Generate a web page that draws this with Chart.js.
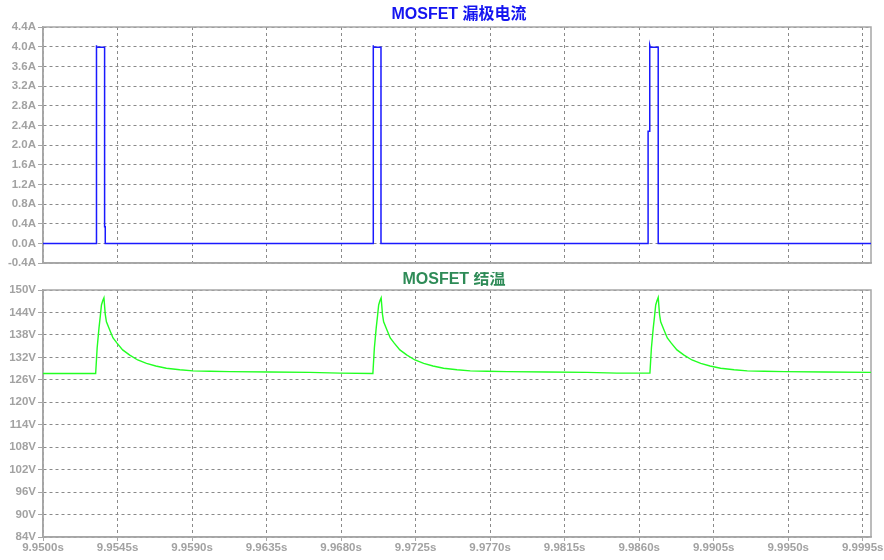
<!DOCTYPE html>
<html>
<head>
<meta charset="utf-8">
<script src="https://cdn.jsdelivr.net/npm/chart.js@4"></script>
<style>
  html, body { margin: 0; padding: 0; background: #ffffff; }
  #wrap { position: relative; width: 884px; height: 560px; overflow: hidden; }
  canvas { position: absolute; left: 0; }
  #cTop { top: 0; }
  #cBot { top: 272px; }
</style>
</head>
<body>
<div id="wrap">
  <canvas id="cTop" width="884" height="272"></canvas>
  <canvas id="cBot" width="884" height="288"></canvas>
</div>
<script>
// ---------- data ----------
const titleCurrent = 'MOSFET 漏极电流';
const titleTemp = 'MOSFET 结温';

const timeMin = 9.95;
const timeMax = 10.0;
const timeTicks = [9.9500, 9.9545, 9.9590, 9.9635, 9.9680, 9.9725, 9.9770, 9.9815, 9.9860, 9.9905, 9.9950, 9.9995];

const currentTicks = [-0.4, 0.0, 0.4, 0.8, 1.2, 1.6, 2.0, 2.4, 2.8, 3.2, 3.6, 4.0, 4.4];
const tempTicks = [84, 90, 96, 102, 108, 114, 120, 126, 132, 138, 144, 150];

// drain current (A) vs time (s)
const currentTime = [
  9.95000, 9.95322, 9.95322, 9.95324, 9.95372, 9.95372, 9.95376, 9.95376,
  9.96993, 9.96993, 9.96996, 9.97041, 9.97041,
  9.98654, 9.98654, 9.98664, 9.98664, 9.98667, 9.98715, 9.98715,
  10.00000
];
const currentAmps = [
  0.00, 0.00, 4.03, 3.99, 3.99, 0.34, 0.34, 0.00,
  0.00, 4.03, 3.99, 3.99, 0.00,
  0.00, 2.28, 2.28, 4.03, 3.99, 3.99, 0.00,
  0.00
];

// junction temperature (plotted in V) vs time (s)
const tempTime = [
  9.95000,
  9.95318, 9.95327, 9.95338, 9.95346, 9.95353, 9.95361, 9.95368, 9.95376,
  9.95383, 9.95403, 9.95423, 9.95447, 9.95481, 9.95524, 9.95572, 9.95625,
  9.95681, 9.95745, 9.95826, 9.95906, 9.96007, 9.96128, 9.96369, 9.96611,
  9.96792,
  9.96992, 9.97001, 9.97012, 9.97020, 9.97027, 9.97035, 9.97042, 9.97050,
  9.97057, 9.97077, 9.97097, 9.97121, 9.97155, 9.97198, 9.97246, 9.97299,
  9.97355, 9.97419, 9.97500, 9.97580, 9.97681, 9.97802, 9.98043, 9.98285,
  9.98466,
  9.98665, 9.98674, 9.98685, 9.98693, 9.98700, 9.98708, 9.98715, 9.98723,
  9.98730, 9.98750, 9.98770, 9.98794, 9.98828, 9.98871, 9.98919, 9.98972,
  9.99028, 9.99092, 9.99173, 9.99253, 9.99354, 9.99475, 9.99716, 10.00000
];
const tempValues = [
  127.7,
  127.7, 134.5, 139.8, 143.0, 146.0, 147.2, 147.9, 143.5,
  141.5, 139.3, 137.2, 135.8, 134.0, 132.6, 131.3, 130.4,
  129.7, 129.1, 128.7, 128.4, 128.3, 128.2, 128.1, 128.0,
  127.8,
  127.7, 134.5, 139.8, 143.0, 146.0, 147.2, 147.9, 143.5,
  141.5, 139.3, 137.2, 135.8, 134.0, 132.6, 131.3, 130.4,
  129.7, 129.1, 128.7, 128.4, 128.3, 128.2, 128.1, 128.0,
  127.8,
  127.8, 134.5, 139.8, 143.0, 146.0, 147.2, 148.0, 143.5,
  141.5, 139.3, 137.2, 135.8, 134.0, 132.6, 131.3, 130.4,
  129.7, 129.1, 128.7, 128.4, 128.3, 128.2, 128.1, 128.0
];

// ---------- styling ----------
const tickFont = { family: "'Liberation Sans', Arial, sans-serif", size: 11.5, weight: 'bold' };
const tickColor = '#a2a2a2';
const gridColor = '#8a8a8a';
const frameColor = '#a6a6a6';

const framePlugin = {
  id: 'frame',
  beforeDatasetsDraw(chart) {
    const a = chart.chartArea, ctx = chart.ctx;
    ctx.save();
    ctx.strokeStyle = frameColor;
    ctx.lineWidth = 1.5;
    ctx.strokeRect(a.left, a.top, a.right - a.left, a.bottom - a.top);
    ctx.restore();
  }
};

const titlePlugin = {
  id: 'ptitle',
  afterDraw(chart, args, opts) {
    const ctx = chart.ctx, a = chart.chartArea;
    ctx.save();
    ctx.font = "bold 16px 'Liberation Sans', Arial, 'Noto Sans CJK SC', sans-serif";
    ctx.fillStyle = opts.color;
    ctx.textAlign = 'center';
    ctx.textBaseline = 'middle';
    ctx.fillText(opts.text, (a.left + a.right) / 2 + opts.dx, opts.y);
    ctx.restore();
  }
};

function pairs(xs, ys) { return xs.map((x, i) => ({ x: x, y: ys[i] })); }

function xScale(showLabels) {
  return {
    type: 'linear',
    min: timeMin,
    max: timeMax,
    afterBuildTicks: s => { s.ticks = timeTicks.map(v => ({ value: v })); },
    afterFit: s => { s.height = showLabels ? 23 : 2; },
    ticks: {
      display: showLabels,
      autoSkip: false,
      maxRotation: 0,
      padding: 0,
      color: tickColor,
      font: tickFont,
      callback: v => v.toFixed(4) + 's'
    },
    grid: {
      color: gridColor,
      lineWidth: 1,
      drawTicks: showLabels,
      tickLength: 4,
      tickColor: frameColor,
      tickBorderDash: []
    },
    border: { display: true, color: frameColor, width: 1.5, dash: [3, 3] }
  };
}

function yScale(min, max, tickVals, fmt) {
  return {
    type: 'linear',
    min: min,
    max: max,
    afterBuildTicks: s => { s.ticks = tickVals.map(v => ({ value: v })); },
    afterFit: s => { s.width = 43; },
    ticks: {
      autoSkip: false,
      padding: 2,
      color: tickColor,
      font: tickFont,
      callback: fmt
    },
    grid: {
      color: gridColor,
      lineWidth: 1,
      drawTicks: true,
      tickLength: 5,
      tickColor: frameColor,
      tickBorderDash: []
    },
    border: { display: true, color: frameColor, width: 1.5, dash: [3, 3] }
  };
}

new Chart(document.getElementById('cTop'), {
  type: 'line',
  data: {
    datasets: [{
      data: pairs(currentTime, currentAmps),
      borderColor: '#1a1aff',
      borderWidth: 1.5,
      pointRadius: 0,
      tension: 0,
      fill: false
    }]
  },
  options: {
    responsive: false,
    animation: false,
    devicePixelRatio: 1,
    layout: { padding: { top: 27, right: 13, left: 0, bottom: 0 } },
    plugins: {
      legend: { display: false },
      tooltip: { enabled: false },
      ptitle: { text: titleCurrent, color: '#1414f0', dx: 2, y: 15 }
    },
    scales: {
      x: xScale(false),
      y: yScale(-0.4, 4.4, currentTicks, v => v.toFixed(1) + 'A')
    }
  },
  plugins: [framePlugin, titlePlugin]
});

new Chart(document.getElementById('cBot'), {
  type: 'line',
  data: {
    datasets: [{
      data: pairs(tempTime, tempValues),
      borderColor: '#22ff22',
      borderWidth: 1.4,
      pointRadius: 0,
      tension: 0,
      fill: false
    }]
  },
  options: {
    responsive: false,
    animation: false,
    devicePixelRatio: 1,
    layout: { padding: { top: 18, right: 13, left: 0, bottom: 0 } },
    plugins: {
      legend: { display: false },
      tooltip: { enabled: false },
      ptitle: { text: titleTemp, color: '#2e8b57', dx: -3, y: 8 }
    },
    scales: {
      x: xScale(true),
      y: yScale(84, 150, tempTicks, v => v + 'V')
    }
  },
  plugins: [framePlugin, titlePlugin]
});
</script>
</body>
</html>
